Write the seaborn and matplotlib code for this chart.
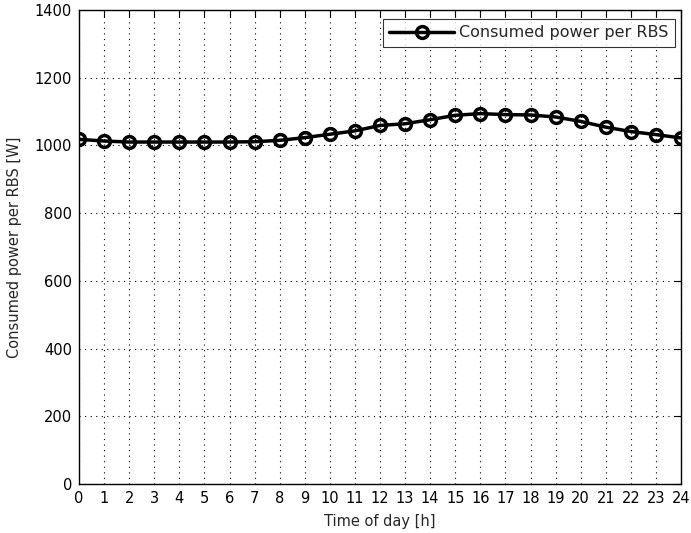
import matplotlib
matplotlib.use("Agg")
import matplotlib.pyplot as plt
import seaborn as sns
import pandas as pd

hours = list(range(25))
power = [1018, 1013, 1010, 1010, 1010, 1010, 1010, 1011, 1015, 1023, 1033, 1043,
         1059, 1064, 1076, 1089, 1094, 1091, 1090, 1084, 1071, 1054, 1041, 1032, 1022]
series_label = "Consumed power per RBS"
x_label = "Time of day [h]"
y_label = "Consumed power per RBS [W]"
y_ticks = [0, 200, 400, 600, 800, 1000, 1200, 1400]

sns.set_style("white")
plt.rcParams['font.family'] = ['DejaVu Sans']

df = pd.DataFrame({"hour": hours, "power": power, "series": series_label})

fig = plt.figure(figsize=(6.91, 5.33), dpi=100)
ax = fig.add_axes([79/691, 1-484/533, (681-79)/691, (484-10)/533])

sns.lineplot(data=df, x="hour", y="power", hue="series", palette=["black"],
             marker="o", markersize=8.5, markerfacecolor="none",
             markeredgecolor="black", markeredgewidth=2.5, linewidth=2.5, ax=ax)

ax.set_xlim(0, 24)
ax.set_ylim(0, 1400)
ax.set_xticks(hours)
ax.set_yticks(y_ticks)
ax.tick_params(direction="in", length=5, width=0.8, top=True, right=True,
               labelsize=10.5, colors="black", pad=5)
ax.grid(True, linestyle=(0, (1, 4)), color="black", linewidth=0.8)
for s in ax.spines.values():
    s.set_visible(True)
    s.set_color("black")
    s.set_linewidth(1)
ax.set_xlabel(x_label, fontsize=10.5, labelpad=6)
ax.set_ylabel(y_label, fontsize=10.5, labelpad=9)

leg = ax.legend(loc="upper right", fontsize=11.5, frameon=True, fancybox=False,
                edgecolor="black", bbox_to_anchor=((675-79)/602, (484-19)/474),
                borderaxespad=0, handlelength=4.1, handletextpad=0.3,
                borderpad=0.4)
leg.get_frame().set_linewidth(0.8)
leg.set_title(None)

fig.savefig("out.png", dpi=100)
